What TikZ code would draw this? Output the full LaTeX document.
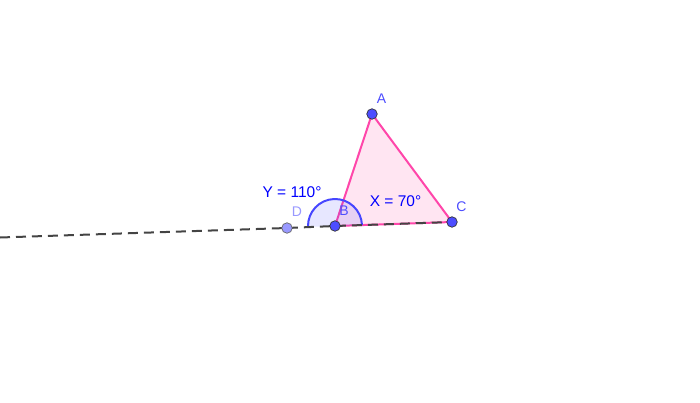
\documentclass[tikz,border=0pt]{standalone}
\usepackage{fontspec}
\setmainfont{Liberation Sans}
\usetikzlibrary{calc}
\definecolor{tripink}{RGB}{255,70,170}
\definecolor{trifill}{RGB}{255,229,242}
\definecolor{ptblue}{RGB}{77,77,255}
\definecolor{ptlight}{RGB}{153,153,255}
\definecolor{angblue}{RGB}{70,70,255}
\definecolor{lineg}{RGB}{68,68,68}
\begin{document}
\begin{tikzpicture}[x=1pt,y=-1pt,
  pt/.style={circle,draw=black!80,line width=0.7pt,fill=ptblue,inner sep=0pt,minimum size=10.5pt},
  ptl/.style={circle,draw=black!60,line width=0.7pt,fill=ptlight,inner sep=0pt,minimum size=10.5pt},
  lbl/.style={text=ptblue,font=\fontsize{14}{16}\selectfont,inner sep=0pt},
  anglbl/.style={text=blue,font=\fontsize{15.5}{18}\selectfont,inner sep=0pt}]
\useasboundingbox (0,0) rectangle (700,403);
\coordinate (A) at (372,114);
\coordinate (B) at (335,226);
\coordinate (C) at (452,222);
\coordinate (D) at (287,228);
\coordinate (L) at (0,237.5);
% triangle
\fill[trifill] (A) -- (B) -- (C) -- cycle;
\draw[tripink,line width=2pt,line join=round] (A) -- (B) -- (C) -- cycle;
% angle sectors
\fill[fill=angblue,fill opacity=0.13] (B) -- ++(-1.96:27) arc[start angle=-1.96,end angle=-71.7,radius=27] -- cycle;
\fill[fill=angblue,fill opacity=0.13] (B) -- ++(-71.7:27) arc[start angle=-71.7,end angle=-181.96,radius=27] -- cycle;
\draw[angblue,line width=2pt] ($(B)+(-1.96:27)$) arc[start angle=-1.96,end angle=-181.96,radius=27];
% dashed line
\draw[lineg,line width=2pt,dash pattern=on 10pt off 6pt] (L) -- (D) -- (B) -- (C);
% points
\node[ptl] (d) at (D) {};
\node[pt] (b) at (B) {};
\node[pt] (c) at (C) {};
\node[pt] (a) at (A) {};
% labels
\node[lbl] (la) at (381.5,99) {A};
\node[lbl] (lb) at (344,210.5) {B};
\node[lbl] (lc) at (461.5,207) {C};
\node[lbl,text=ptlight] (ld) at (297,212) {D};
\node[anglbl] (ly) at (292,192) {Y = 110°};
\node[anglbl] (lx) at (395.5,201) {X = 70°};
\end{tikzpicture}
\end{document}
